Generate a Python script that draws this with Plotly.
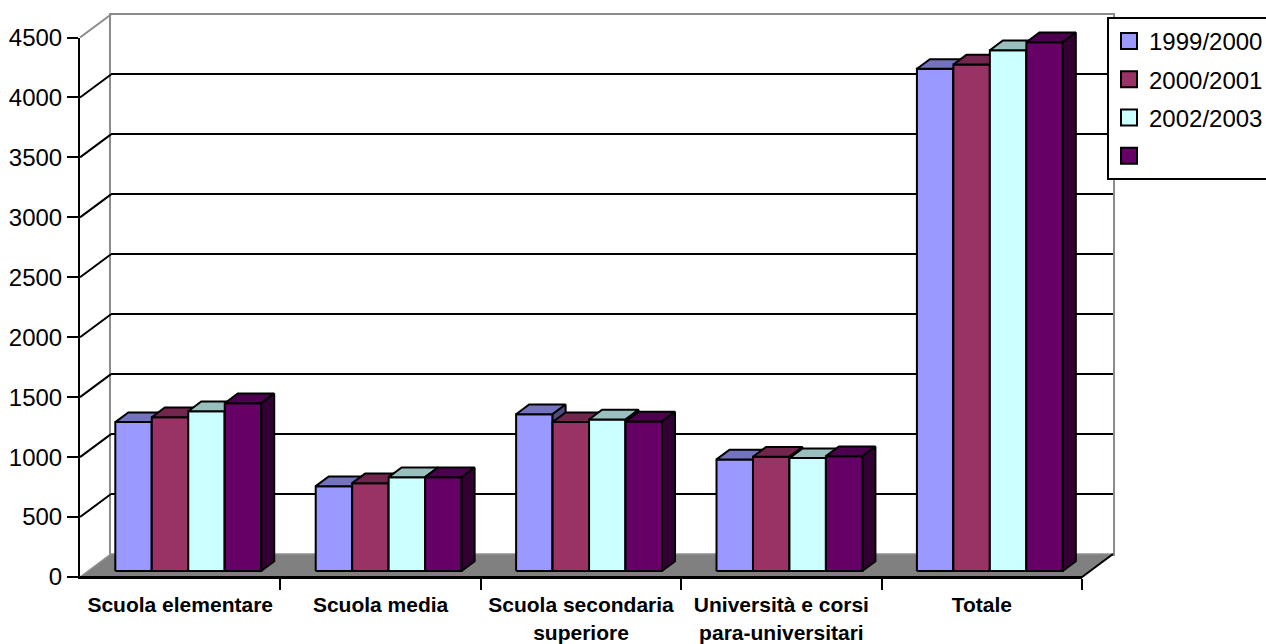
import plotly.graph_objects as go

# ---------------- data ----------------
categories = ["Scuola elementare", "Scuola media", "Scuola secondaria<br>superiore",
              "Università e corsi<br>para-universitari", "Totale"]
series_names = ["1999/2000", "2000/2001", "2002/2003", " "]
s_1999_2000 = [1242, 708, 1308, 931, 4189]
s_2000_2001 = [1283, 733, 1242, 953, 4225]
s_2002_2003 = [1333, 783, 1264, 942, 4344]
s_fourth = [1400, 783, 1247, 958, 4411]
y_ticks = [0, 500, 1000, 1500, 2000, 2500, 3000, 3500, 4000, 4500]

series_values = [s_1999_2000, s_2000_2001, s_2002_2003, s_fourth]

# ---------------- styles ----------------
front_colors = ["#9999FF", "#993366", "#CCFFFF", "#660066"]
top_colors = ["#7373BF", "#73264D", "#99BFBF", "#4D004D"]
side_colors = ["#4D4D80", "#4D1A33", "#668080", "#330033"]
FONT = "Liberation Sans, Arial, sans-serif"

# ---------------- geometry (pixels) ----------------
W, H = 1266, 644
X0, X1 = 80, 1082      # front category axis extent
Y0, YT = 577, 37.5     # front value axis: 0 and max
YMAX = 4500
DX, DY = 31, 23        # depth offset of the back wall
ncat = len(categories)
upx = (X1 - X0) / ncat          # px per category unit
vpx = (Y0 - YT) / YMAX          # px per value unit
DXc, DYv = DX / upx, DY / vpx   # depth in data units

FZ = 0.26      # depth position of bar fronts
BD = 0.42      # bar depth fraction
BW = 0.182     # bar width (category units)

xshift, base = FZ * DXc, FZ * DYv
ddx, ddy = BD * DXc, BD * DYv

fig = go.Figure()

# empty traces so that the back-wall and front-axis subplots are created
fig.add_trace(go.Scatter(x=[None], y=[None], xaxis="x", yaxis="y",
                         showlegend=False, hoverinfo="skip"))
fig.add_trace(go.Scatter(x=[None], y=[None], xaxis="x2", yaxis="y2",
                         showlegend=False, hoverinfo="skip"))

# canvas axis (x3/y3) shares the front scale over the whole figure
cx_range = [-0.5 - X0 / upx, -0.5 + (W - X0) / upx]
cy_range = [-(H - Y0) / vpx, Y0 / vpx]

def canvas(tr):
    tr.update(xaxis="x3", yaxis="y3", showlegend=False, hoverinfo="skip")
    fig.add_trace(tr)

# floor
fx = [-0.5, 4.5, 4.5 + DXc, -0.5 + DXc, -0.5]
fy = [0, 0, DYv, DYv, 0]
canvas(go.Scatter(x=fx, y=fy, mode="lines", fill="toself", fillcolor="#808080",
                  line=dict(color="#909090", width=1.5)))
# floor front + right edges (black)
canvas(go.Scatter(x=[-0.5, 4.5, 4.5 + DXc], y=[0, 0, DYv], mode="lines",
                  line=dict(color="black", width=2)))
# left side wall diagonals from each value tick
dxs, dys = [], []
for v in y_ticks[1:-1]:
    dxs += [-0.5, -0.5 + DXc, None]
    dys += [v, v + DYv, None]
canvas(go.Scatter(x=dxs, y=dys, mode="lines", line=dict(color="black", width=2)))
canvas(go.Scatter(x=[-0.5, -0.5 + DXc], y=[YMAX, YMAX + DYv], mode="lines",
                  line=dict(color="#8C8C8C", width=2)))

# bars: front / top / side polygons, drawn left to right
for k, vals in enumerate(series_values):
    frx, fry, tx, ty, sx, sy = [], [], [], [], [], []
    for i, v in enumerate(vals):
        L = i + xshift - 2 * BW + k * BW
        R = L + BW
        top = base + v
        frx += [L, R, R, L, L, None]
        fry += [base, base, top, top, base, None]
        tx += [L, R, R + ddx, L + ddx, L, None]
        ty += [top, top, top + ddy, top + ddy, top, None]
        sx += [R, R + ddx, R + ddx, R, R, None]
        sy += [base, base + ddy, top + ddy, top, base, None]
    for xs, ys, col in ((frx, fry, front_colors[k]), (tx, ty, top_colors[k]),
                        (sx, sy, side_colors[k])):
        canvas(go.Scatter(x=xs, y=ys, mode="lines", fill="toself", fillcolor=col,
                          line=dict(color="black", width=2)))

# legend entries
for k, name in enumerate(series_names):
    fig.add_trace(go.Scatter(x=[None], y=[None], mode="markers", name=name,
                             legendgroup=f"g{k}", xaxis="x3", yaxis="y3",
                             marker=dict(symbol="square", size=16, color=front_colors[k],
                                         line=dict(color="black", width=2))))

fig.update_layout(
    width=W, height=H,
    margin=dict(l=0, r=0, t=0, b=0, autoexpand=False),
    paper_bgcolor="white", plot_bgcolor="rgba(0,0,0,0)",
    font=dict(family=FONT, color="black"),
    showlegend=True,
    legend=dict(x=1107 / W, y=1 - 17 / H, xanchor="left", yanchor="top",
                bgcolor="white", bordercolor="black", borderwidth=2,
                font=dict(size=24, family=FONT), tracegroupgap=4,
                traceorder="grouped", itemsizing="trace"),
    # back wall (drawn first)
    xaxis=dict(domain=[(X0 + DX) / W, (X1 + DX) / W], range=[-0.5, 4.5], anchor="y",
               showgrid=False, zeroline=False, showticklabels=False, ticks="",
               showline=True, mirror=True, linecolor="#8C8C8C", linewidth=2,
               fixedrange=True),
    yaxis=dict(domain=[1 - (Y0 - DY) / H, 1 - (YT - DY) / H], range=[0, YMAX], anchor="x",
               tickvals=y_ticks[1:-1], showgrid=True, gridcolor="black", gridwidth=2,
               zeroline=False, showticklabels=False, ticks="",
               showline=True, mirror=True, linecolor="#8C8C8C", linewidth=2,
               fixedrange=True),
    # front axes
    xaxis2=dict(domain=[X0 / W, X1 / W], range=[-0.5, 4.5], anchor="y2",
                tickvals=list(range(ncat)), ticktext=categories,
                tickfont=dict(size=21, family=FONT, weight="bold"),
                ticks="outside", ticklen=8, tickcolor="rgba(0,0,0,0)",
                minor=dict(tickvals=[i + 0.5 for i in range(ncat)], ticks="outside",
                           ticklen=11, tickwidth=2, tickcolor="black", showgrid=False),
                showgrid=False, zeroline=False, fixedrange=True,
                showline=True, linecolor="black", linewidth=2),
    yaxis2=dict(domain=[1 - Y0 / H, 1 - YT / H], range=[0, YMAX], anchor="x2",
                tickvals=y_ticks, ticks="outside", ticklen=11, tickwidth=2,
                tickcolor="black", tickfont=dict(size=24, family=FONT),
                showgrid=False, zeroline=False, fixedrange=True,
                showline=True, linecolor="black", linewidth=2),
    # canvas
    xaxis3=dict(domain=[0, 1], range=cx_range, anchor="y3", visible=False,
                fixedrange=True),
    yaxis3=dict(domain=[0, 1], range=cy_range, anchor="x3", visible=False,
                fixedrange=True),
)

fig.write_html("out.html")
